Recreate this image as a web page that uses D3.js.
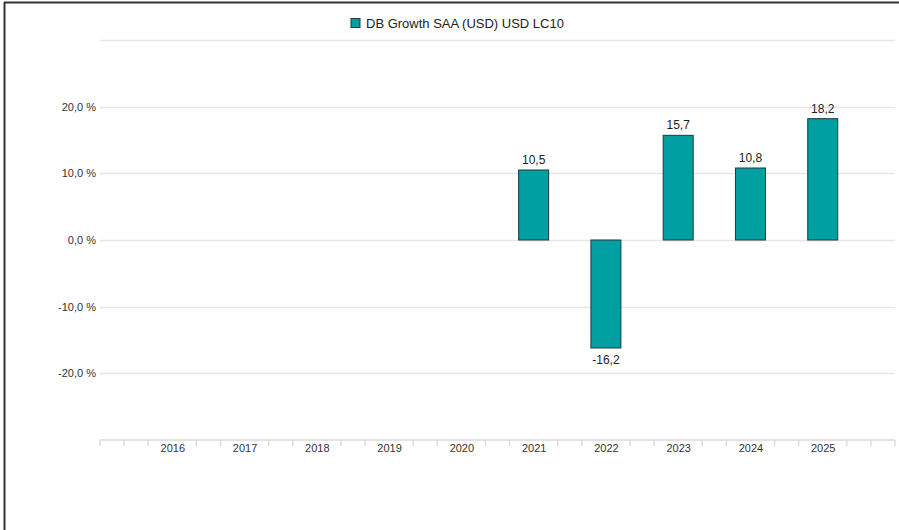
<!DOCTYPE html>
<html><head><meta charset="utf-8">
<script src="https://cdn.jsdelivr.net/npm/d3@7"></script>
<style>body{margin:0;background:#fff}svg{display:block;font-family:"Liberation Sans",Arial,sans-serif}</style>
</head><body><svg id="c" width="899" height="530"></svg>
<script>
const years = [2016,2017,2018,2019,2020,2021,2022,2023,2024,2025];
const values = [null,null,null,null,null,10.5,-16.2,15.7,10.8,18.2];
const yTicks = [-20,-10,0,10,20];
const gridTicks = [-20,-10,0,10,20,30];
const seriesName = "DB Growth SAA (USD) USD LC10";

const svg = d3.select("#c");
const fmt = v => v.toFixed(1).replace(".", ",");
const x = d3.scaleLinear().domain([2015, 2026]).range([100, 895]);
const y = d3.scaleLinear().domain([-30, 30]).range([440, 40]);
const barW = 30;

// border
svg.append("line").attr("x1",4.5).attr("x2",4.5).attr("y1",2).attr("y2",530).attr("stroke","#333").attr("stroke-width",2);
svg.append("line").attr("x1",4).attr("x2",899).attr("y1",2.5).attr("y2",2.5).attr("stroke","#333").attr("stroke-width",2);

// grid
svg.append("g").selectAll("line").data(gridTicks).join("line")
  .attr("x1",100).attr("x2",895).attr("y1",d=>Math.round(y(d))+0.5).attr("y2",d=>Math.round(y(d))+0.5)
  .attr("stroke","#e6e6e6").attr("stroke-width",1.5);

// y labels
const yAxis = d3.axisLeft(y).tickValues(yTicks).tickSize(0).tickPadding(4).tickFormat(d=>fmt(d)+" %");
const gy = svg.append("g").attr("transform","translate(100,0)").call(yAxis);
gy.select(".domain").remove();
gy.selectAll("text").attr("font-size",11).attr("fill","#333").attr("font-family","Liberation Sans, Arial, sans-serif");

// x axis
const tickPos = [2015];
years.forEach(yr=>{tickPos.push(yr-1/3, yr+1/3);});
tickPos.push(2015+1/3, 2026-1/3, 2026);
const gx = svg.append("g").attr("transform","translate(0,440)");
gx.append("line").attr("x1",100).attr("x2",895).attr("y1",0).attr("y2",0).attr("stroke","#e3e3e3").attr("stroke-width",2);
gx.selectAll("line.t").data(tickPos).join("line").attr("class","t")
  .attr("x1",d=>x(d)).attr("x2",d=>x(d)).attr("y1",0).attr("y2",6).attr("stroke","#dcdcdc").attr("stroke-width",1.5);
const xAxis = d3.axisBottom(x).tickValues(years).tickSize(0).tickPadding(4).tickFormat(d=>String(d));
const gxl = svg.append("g").attr("transform","translate(0,440)").call(xAxis);
gxl.select(".domain").remove();
gxl.selectAll("text").attr("font-size",11).attr("fill","#333").attr("font-family","Liberation Sans, Arial, sans-serif");

// bars
const data = years.map((yr,i)=>({yr, v: values[i]})).filter(d=>d.v!==null);
svg.append("g").selectAll("rect").data(data).join("rect")
  .attr("x",d=>x(d.yr)-barW/2).attr("width",barW)
  .attr("y",d=>y(Math.max(0,d.v))).attr("height",d=>Math.abs(y(d.v)-y(0)))
  .attr("fill","#009fa2").attr("stroke","#1f3a3a").attr("stroke-width",1);

svg.append("g").selectAll("text").data(data).join("text")
  .attr("x",d=>x(d.yr)).attr("y",d=>d.v>=0 ? y(d.v)-6 : y(d.v)+16)
  .attr("text-anchor","middle").attr("font-size",12).attr("fill","#222")
  .text(d=>fmt(d.v));

// legend
svg.append("rect").attr("x",351).attr("y",18.5).attr("width",9).attr("height",9)
  .attr("fill","#009fa2").attr("stroke","#1f3a3a").attr("stroke-width",1);
svg.append("text").attr("x",366).attr("y",27.5).attr("font-size",13).attr("fill","#222").text(seriesName);
</script></body></html>
